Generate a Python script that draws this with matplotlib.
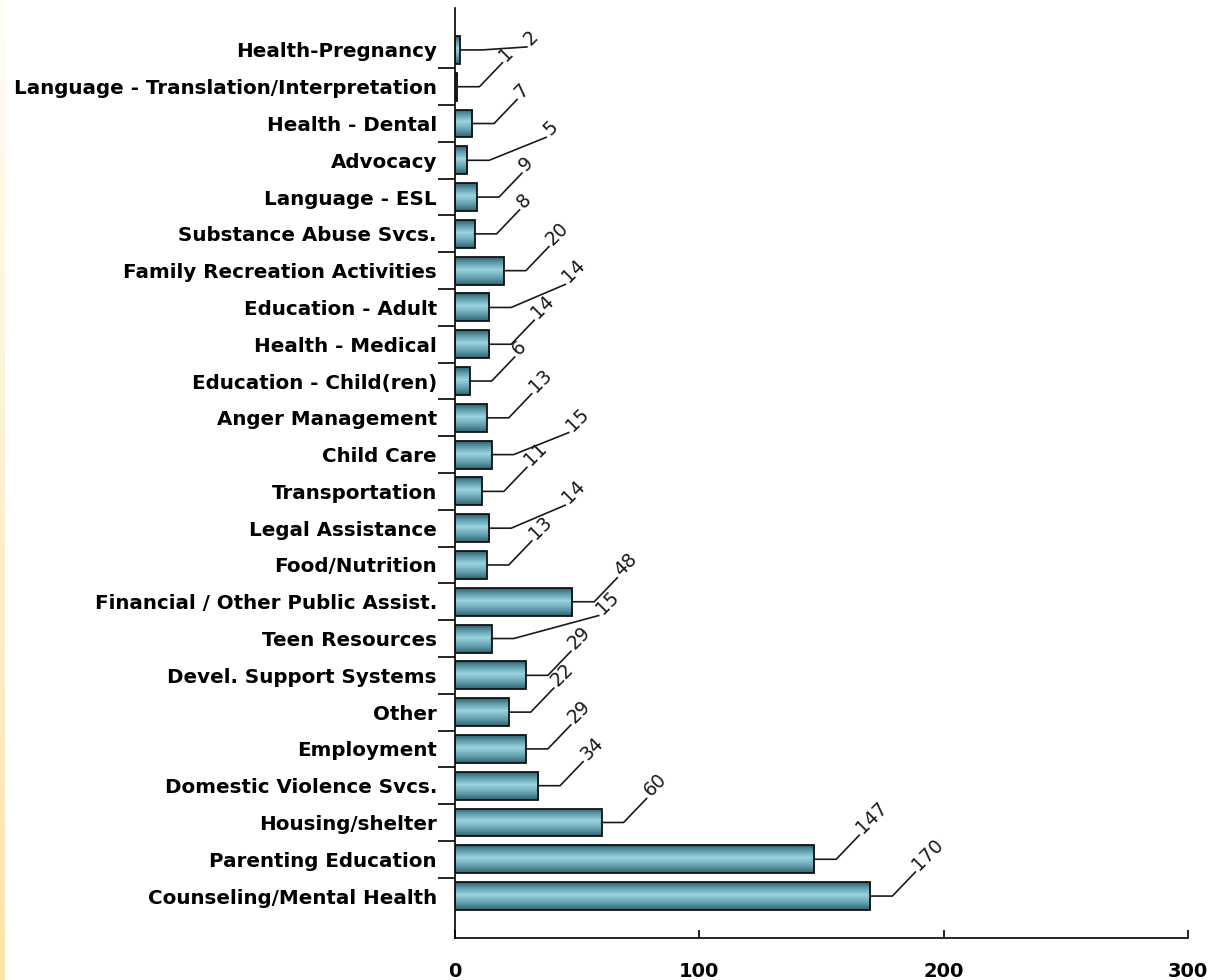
import matplotlib
matplotlib.use('Agg')
import matplotlib.pyplot as plt
from matplotlib.colors import LinearSegmentedColormap
import numpy as np

# categories top to bottom, as in the chart
categories = [
    'Health-Pregnancy',
    'Language - Translation/Interpretation',
    'Health - Dental',
    'Advocacy',
    'Language - ESL',
    'Substance Abuse Svcs.',
    'Family Recreation Activities',
    'Education - Adult',
    'Health - Medical',
    'Education - Child(ren)',
    'Anger Management',
    'Child Care',
    'Transportation',
    'Legal Assistance',
    'Food/Nutrition',
    'Financial / Other Public Assist.',
    'Teen Resources',
    'Devel. Support Systems',
    'Other',
    'Employment',
    'Domestic Violence Svcs.',
    'Housing/shelter',
    'Parenting Education',
    'Counseling/Mental Health',
]
values = [2, 1, 7, 5, 9, 8, 20, 14, 14, 6, 13, 15, 11, 14, 13, 48, 15, 29, 22, 29, 34, 60, 147, 170]
xticks = [0, 100, 200, 300]

# leader line layout (pixels): stub length, then (dx, dy) of the slanted part
stub = 22
default_leader = (23, 24)
leader_override = {
    'Health-Pregnancy': (45, 3),
    'Advocacy': (57, 23),
    'Education - Adult': (54, 23),
    'Child Care': (55, 22),
    'Legal Assistance': (54, 23),
    'Teen Resources': (85, 23),
}

W, H = 1212, 980
fig = plt.figure(figsize=(W / 100, H / 100), dpi=100)

# faint orange strip on the far left
strip = fig.add_axes([0, 0, 5 / W, 1])
grad_strip = np.linspace(0, 1, 256).reshape(-1, 1)
strip_cmap = LinearSegmentedColormap.from_list('strip', ['#fffdf6', '#fde4ab'])
strip.imshow(grad_strip, aspect='auto', cmap=strip_cmap, extent=[0, 1, 0, 1])
strip.axis('off')

ax = fig.add_axes([455 / W, 1 - 938 / H, (1188 - 455) / W, (938 - 8) / H])

n = len(categories)
ypos = np.arange(n)[::-1]
bar_h = 0.76

bar_cmap = LinearSegmentedColormap.from_list(
    'bar', [(0.0, '#2f6372'), (0.25, '#639fae'), (0.55, '#9ad4e0'), (0.8, '#5f9bab'), (1.0, '#2e5f6d')])
grad = np.linspace(0, 1, 100).reshape(-1, 1)

bars = ax.barh(ypos, values, height=bar_h, color='none', edgecolor='#111111', linewidth=1.3, zorder=3)
for b, v, y in zip(bars, values, ypos):
    im = ax.imshow(grad, extent=[0, v, y + bar_h / 2, y - bar_h / 2], aspect='auto',
                   cmap=bar_cmap, zorder=2, interpolation='bilinear')
    im.set_clip_path(b)

ax.set_xlim(0, 300)
ax.set_ylim(-1.14, n - 1 + 1.14)
ax.set_aspect('auto')

ax.spines['top'].set_visible(False)
ax.spines['right'].set_visible(False)
ax.spines['left'].set_linewidth(1.2)
ax.spines['bottom'].set_linewidth(1.2)

ax.set_xticks(xticks)
ax.set_xticklabels([str(t) for t in xticks], fontsize=14, fontweight='bold')
ax.tick_params(axis='x', direction='in', length=6, width=1.2, pad=17)

ax.set_yticks(ypos)
ax.set_yticklabels(categories, fontsize=14.3, fontweight='bold')
ax.tick_params(axis='y', which='major', length=0, pad=13)
ax.set_yticks(np.arange(n - 1) + 0.5, minor=True)
ax.tick_params(axis='y', which='minor', direction='out', length=12.5, width=1.2)

# value labels with leader lines
to_px = ax.transData
to_data = ax.transData.inverted()
for cat, v, y in zip(categories, values, ypos):
    x0, y0 = to_px.transform((v, y))
    dx, dy = leader_override.get(cat, default_leader)
    pts_px = np.array([[x0, y0], [x0 + stub, y0], [x0 + stub + dx, y0 + dy]])
    pts = to_data.transform(pts_px)
    ax.plot(pts[:, 0], pts[:, 1], color='#1a1a1a', lw=1.2, zorder=4, clip_on=False)
    tx, ty = to_data.transform((pts_px[-1, 0] + 4, pts_px[-1, 1] + 1))
    ax.text(tx, ty, str(v), rotation=45, rotation_mode='anchor', ha='left', va='baseline',
            fontsize=13.5, color='#1a1a1a', clip_on=False)

fig.savefig('out.png', dpi=100)
